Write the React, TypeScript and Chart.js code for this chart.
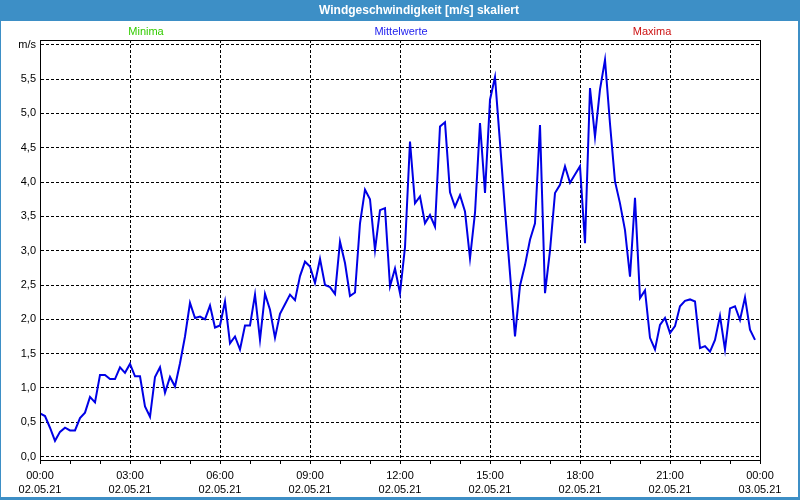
import React, { useEffect, useRef } from 'react';
import { Chart, registerables } from 'chart.js';

Chart.register(...registerables);

// Zeitpunkte in Minuten seit 02.05.21 00:00
const minuten = [
  0, 10, 20, 30, 40, 50, 60, 70, 80, 90, 100, 110, 120, 130, 140, 150, 160, 170,
  180, 190, 200, 210, 220, 230, 240, 250, 260, 270, 280, 290, 300, 310, 320, 330, 340, 350,
  360, 370, 380, 390, 400, 410, 420, 430, 440, 450, 460, 470, 480, 490, 500, 510, 520, 530,
  540, 550, 560, 570, 580, 590, 600, 610, 620, 630, 640, 650, 660, 670, 680, 690, 700, 710,
  720, 730, 740, 750, 760, 770, 780, 790, 800, 810, 820, 830, 840, 850, 860, 870, 880, 890,
  900, 910, 920, 930, 940, 950, 960, 970, 980, 990, 1000, 1010, 1020, 1030, 1040, 1050, 1060, 1070,
  1080, 1090, 1100, 1110, 1120, 1130, 1140, 1150, 1160, 1170, 1180, 1190, 1200, 1210, 1220, 1230, 1240, 1250,
  1260, 1270, 1280, 1290, 1300, 1310, 1320, 1330, 1340, 1350, 1360, 1370, 1380, 1390, 1400, 1410, 1420, 1430,
];

// Mittelwerte Windgeschwindigkeit [m/s]
const mittelwerte = [
  0.63, 0.59, 0.42, 0.23, 0.36, 0.42, 0.38, 0.38, 0.56, 0.64, 0.87, 0.79, 1.19, 1.19, 1.13, 1.13, 1.30, 1.22,
  1.35, 1.17, 1.17, 0.73, 0.58, 1.16, 1.30, 0.93, 1.16, 1.02, 1.36, 1.75, 2.24, 2.02, 2.04, 2.00, 2.20, 1.88,
  1.91, 2.26, 1.65, 1.75, 1.56, 1.91, 1.91, 2.36, 1.70, 2.37, 2.14, 1.73, 2.08, 2.22, 2.36, 2.28, 2.63, 2.84,
  2.77, 2.53, 2.88, 2.50, 2.47, 2.37, 3.13, 2.82, 2.34, 2.39, 3.40, 3.89, 3.75, 3.01, 3.59, 3.62, 2.48, 2.74,
  2.38, 3.05, 4.59, 3.69, 3.79, 3.40, 3.52, 3.35, 4.81, 4.87, 3.85, 3.64, 3.81, 3.57, 2.89, 3.55, 4.86, 3.84,
  5.20, 5.53, 4.57, 3.59, 2.67, 1.75, 2.49, 2.79, 3.16, 3.40, 4.83, 2.38, 3.00, 3.84, 3.96, 4.23, 3.99, 4.11,
  4.23, 3.11, 5.37, 4.66, 5.35, 5.78, 4.85, 4.01, 3.69, 3.30, 2.62, 3.77, 2.31, 2.42, 1.73, 1.56, 1.92, 2.02,
  1.80, 1.90, 2.19, 2.27, 2.29, 2.26, 1.58, 1.61, 1.53, 1.70, 2.05, 1.56, 2.16, 2.19, 1.99, 2.32, 1.85, 1.70,
];

const yTickWerte = [0, 0.5, 1, 1.5, 2, 2.5, 3, 3.5, 4, 4.5, 5, 5.5, 6];
const xTickWerte = [0, 60, 120, 180, 240, 300, 360, 420, 480, 540, 600, 660, 720, 780, 840, 900, 960, 1020, 1080, 1140, 1200, 1260, 1320, 1380, 1440];
const xHauptWerte = [0, 180, 360, 540, 720, 900, 1080, 1260, 1440];
const xUhrzeiten = ['00:00', '03:00', '06:00', '09:00', '12:00', '15:00', '18:00', '21:00', '00:00'];
const xDaten = ['02.05.21', '02.05.21', '02.05.21', '02.05.21', '02.05.21', '02.05.21', '02.05.21', '02.05.21', '03.05.21'];

const titel = 'Windgeschwindigkeit [m/s] skaliert';
const legende = [
  { text: 'Minima', farbe: '#33cc00', x: 146 },
  { text: 'Mittelwerte', farbe: '#2222ee', x: 401 },
  { text: 'Maxima', farbe: '#cc1111', x: 652 },
];

const FONT = '"Liberation Sans", Arial, sans-serif';
const BLAU = '#3d8fc6';

const rahmenPlugin = {
  id: 'rahmen',
  beforeDraw(chart: any) {
    const { ctx, width, height } = chart;
    ctx.save();
    ctx.fillStyle = '#ffffff';
    ctx.fillRect(0, 0, width, height);
    ctx.fillStyle = BLAU;
    ctx.fillRect(0, 0, width, 21);
    ctx.fillRect(0, 0, 1, height);
    ctx.fillRect(width - 2, 0, 2, height);
    ctx.fillRect(0, height - 3, width, 3);
    ctx.fillStyle = '#ffffff';
    ctx.font = 'bold 12px ' + FONT;
    ctx.textAlign = 'center';
    ctx.textBaseline = 'middle';
    ctx.fillText(titel, 419, 10.5);
    ctx.font = '11px ' + FONT;
    legende.forEach((l) => {
      ctx.fillStyle = l.farbe;
      ctx.fillText(l.text, l.x, 32);
    });
    ctx.restore();
  },
  afterDraw(chart: any) {
    const { ctx, chartArea } = chart;
    ctx.save();
    ctx.strokeStyle = '#000000';
    ctx.lineWidth = 1;
    ctx.strokeRect(
      Math.round(chartArea.left) + 0.5,
      Math.round(chartArea.top) + 0.5,
      Math.round(chartArea.right - chartArea.left),
      Math.round(chartArea.bottom - chartArea.top)
    );
    ctx.restore();
  },
};

export default function App() {
  const ref = useRef<HTMLCanvasElement | null>(null);

  useEffect(() => {
    if (!ref.current) return;
    const punkte = minuten.map((m, i) => ({ x: m, y: mittelwerte[i] }));
    const chart = new Chart(ref.current, {
      type: 'line',
      data: {
        datasets: [
          {
            label: 'Mittelwerte',
            data: punkte,
            borderColor: '#0000e6',
            borderWidth: 2,
            pointRadius: 0,
            tension: 0,
            fill: false,
          },
        ],
      },
      options: {
        responsive: false,
        animation: false,
        devicePixelRatio: 1,
        layout: { padding: { top: 40, right: 40, left: 0, bottom: 0 } },
        plugins: {
          legend: { display: false },
          title: { display: false },
          tooltip: { enabled: false },
        },
        scales: {
          x: {
            type: 'linear',
            min: 0,
            max: 1440,
            afterBuildTicks: (axis: any) => {
              axis.ticks = xTickWerte.map((v) => ({ value: v }));
            },
            afterFit: (scale: any) => {
              scale.height = 40;
            },
            grid: {
              color: (c: any) => (c.tick && xHauptWerte.includes(c.tick.value) ? '#000000' : 'rgba(0,0,0,0)'),
              tickColor: '#000000',
              tickLength: 4,
              lineWidth: 1,
            },
            border: { display: true, color: '#000000', width: 1, dash: [3, 2] },
            ticks: {
              autoSkip: false,
              maxRotation: 0,
              padding: 4,
              color: '#000000',
              font: { family: FONT, size: 11, lineHeight: 1.36 },
              callback: (v: any) => {
                const idx = xHauptWerte.indexOf(Number(v));
                return idx >= 0 ? [xUhrzeiten[idx], xDaten[idx]] : '';
              },
            },
          },
          y: {
            type: 'linear',
            min: -0.05,
            max: 6.07,
            afterBuildTicks: (axis: any) => {
              axis.ticks = yTickWerte.map((v) => ({ value: v }));
            },
            afterFit: (scale: any) => {
              scale.width = 40;
            },
            grid: {
              color: '#000000',
              drawTicks: false,
              lineWidth: 1,
            },
            border: { display: true, color: '#000000', width: 1, dash: [3, 2] },
            ticks: {
              padding: 4,
              color: '#000000',
              font: { family: FONT, size: 11 },
              callback: (v: any) => {
                const n = Number(v);
                if (n === 6) return 'm/s';
                return n.toFixed(1).replace('.', ',');
              },
            },
          },
        },
      },
      plugins: [rahmenPlugin],
    });
    return () => chart.destroy();
  }, []);

  return (
    <div style={{ position: 'absolute', left: 0, top: 0, width: 800, height: 500 }}>
      <canvas ref={ref} width={800} height={500} style={{ display: 'block' }} />
    </div>
  );
}
